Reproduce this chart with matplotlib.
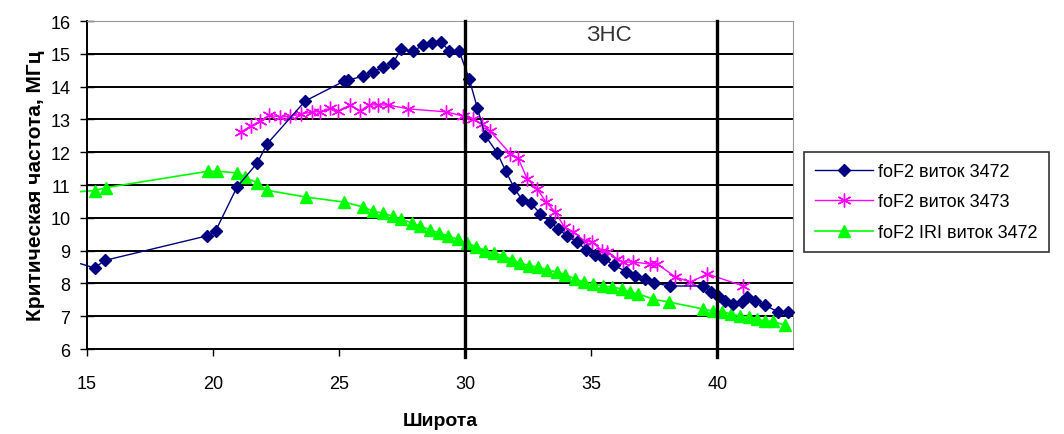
import matplotlib
matplotlib.use("Agg")
import matplotlib.pyplot as plt

plt.rcParams["font.family"] = ["Liberation Sans Narrow", "Liberation Sans", "DejaVu Sans"]

# foF2 виток 3472
lat_3472 = [14.75, 15.3, 15.7, 19.76, 20.1, 20.95, 21.75, 22.14, 23.65, 25.2,
            25.36, 25.95, 26.35, 26.75, 27.14, 27.46, 27.94, 28.33, 28.69, 29.05,
            29.37, 29.76, 30.16, 30.48, 30.8, 31.27, 31.6, 31.95, 32.26, 32.6,
            32.98, 33.37, 33.69, 34.05, 34.44, 34.8, 35.16, 35.52, 35.9, 36.39,
            36.75, 37.14, 37.5, 38.13, 39.44, 39.76, 40.04, 40.32, 40.63, 40.99,
            41.19, 41.5, 41.87, 42.42, 42.82]
fof2_3472 = [8.6, 8.47, 8.7, 9.45, 9.6, 10.94, 11.67, 12.25, 13.56, 14.17,
             14.2, 14.32, 14.44, 14.6, 14.72, 15.15, 15.08, 15.27, 15.33, 15.36,
             15.08, 15.08, 14.23, 13.35, 12.5, 11.98, 11.43, 10.9, 10.54, 10.45,
             10.12, 9.87, 9.66, 9.44, 9.26, 9.02, 8.87, 8.74, 8.56, 8.35,
             8.23, 8.13, 8.01, 7.92, 7.92, 7.74, 7.62, 7.46, 7.37, 7.43,
             7.6, 7.47, 7.34, 7.13, 7.13]

# foF2 виток 3473
lat_3473 = [21.1, 21.5, 21.87, 22.22, 22.66, 23.06, 23.5, 23.93, 24.25, 24.64,
            24.96, 25.44, 25.83, 26.2, 26.55, 26.94, 27.74, 29.25, 29.92, 30.32,
            30.67, 30.98, 31.79, 32.1, 32.46, 32.86, 33.2, 33.57, 33.93, 34.29,
            34.72, 35.04, 35.44, 35.63, 36.03, 36.27, 36.67, 37.34, 37.62, 38.33,
            38.93, 39.6, 41.03]
fof2_3473 = [12.62, 12.8, 12.95, 13.13, 13.07, 13.1, 13.16, 13.23, 13.23, 13.34,
             13.26, 13.44, 13.26, 13.44, 13.44, 13.44, 13.32, 13.23, 13.1, 13.01,
             12.86, 12.65, 11.95, 11.82, 11.18, 10.88, 10.48, 10.18, 9.72, 9.57,
             9.3, 9.26, 8.99, 8.96, 8.74, 8.65, 8.65, 8.59, 8.59, 8.2,
             8.04, 8.29, 7.92]

# foF2 IRI виток 3472
lat_iri = [14.75, 15.3, 15.75, 19.8, 20.16, 20.95, 21.27, 21.75, 22.14, 23.7,
           25.2, 25.95, 26.35, 26.75, 27.12, 27.44, 27.9, 28.21, 28.6, 28.97,
           29.33, 29.7, 30.08, 30.44, 30.8, 31.15, 31.5, 31.87, 32.18, 32.54,
           32.9, 33.25, 33.65, 33.97, 34.37, 34.72, 35.08, 35.48, 35.83, 36.23,
           36.55, 36.87, 37.46, 38.08, 39.45, 39.84, 40.2, 40.55, 40.9, 41.25,
           41.59, 41.88, 42.2, 42.68]
fof2_iri = [10.8, 10.83, 10.92, 11.42, 11.42, 11.37, 11.24, 11.06, 10.84, 10.63,
            10.48, 10.33, 10.2, 10.14, 10.05, 9.96, 9.84, 9.75, 9.63, 9.54,
            9.44, 9.35, 9.22, 9.12, 9.0, 8.93, 8.84, 8.72, 8.62, 8.54,
            8.5, 8.4, 8.35, 8.26, 8.13, 8.04, 7.98, 7.92, 7.89, 7.83,
            7.74, 7.68, 7.52, 7.43, 7.22, 7.15, 7.13, 7.07, 7.0, 6.98,
            6.91, 6.85, 6.85, 6.72]

x_ticks = [15, 20, 25, 30, 35, 40]
y_ticks = [6, 7, 8, 9, 10, 11, 12, 13, 14, 15, 16]
zone_bounds = [30, 40]

fig = plt.figure(figsize=(10.64, 4.35), dpi=100, facecolor="white")
ax = fig.add_axes([0.0818, 0.1954, 0.6635, 0.754])

# horizontal grid
for yv in y_ticks[1:-1]:
    ax.axhline(yv, color="black", linewidth=1.4, zorder=1)

ax.plot(lat_3472, fof2_3472, color="#000080", linewidth=1.0, marker="D",
        markersize=6.5, markevery=list(range(1, len(lat_3472))), label="foF2 виток 3472",
        clip_on=False, zorder=4)
ax.plot(lat_3473, fof2_3473, color="#FF00FF", linewidth=1.0, marker=(6, 2, 0),
        markersize=10, markeredgewidth=1.0, label="foF2 виток 3473", zorder=3)
ax.plot(lat_iri, fof2_iri, color="#00FF00", linewidth=1.2, marker="^",
        markersize=8, markevery=list(range(1, len(lat_iri))), label="foF2 IRI виток 3472",
        clip_on=False, zorder=2)

for xv in zone_bounds:
    ax.axvline(xv, ymin=-0.025, ymax=1, color="black", linewidth=2.4, clip_on=False, zorder=5)

ax.text(35.7, 15.6, "ЗНС", fontsize=16, color="#333333", ha="center", va="center",
        family=["Liberation Sans", "DejaVu Sans"])

ax.set_xlim(15, 43)
ax.set_ylim(6, 16)
ax.set_xticks(x_ticks)
ax.set_yticks(y_ticks)
ax.tick_params(axis="x", direction="out", length=5, width=1, pad=14, labelsize=13)
ax.tick_params(axis="y", direction="inout", length=10, width=1, pad=7, labelsize=13)

ax.spines["top"].set_color("#999999")
ax.spines["right"].set_color("#999999")
ax.spines["left"].set_linewidth(1.4)
ax.spines["bottom"].set_linewidth(1.4)

ax.set_xlabel("Широта", fontsize=14, fontweight="bold", labelpad=14)
ax.set_ylabel("Критическая частота, МГц", fontsize=15, fontweight="bold", labelpad=4)

leg = fig.legend(loc="upper left", bbox_to_anchor=(0.756, 0.648), fontsize=13,
                 frameon=True, fancybox=False, handlelength=3.2, handletextpad=0.3,
                 labelspacing=0.75, borderpad=0.6, borderaxespad=0)
leg.get_frame().set_edgecolor("black")
leg.get_frame().set_linewidth(1.2)

fig.savefig("out.png", dpi=100)
